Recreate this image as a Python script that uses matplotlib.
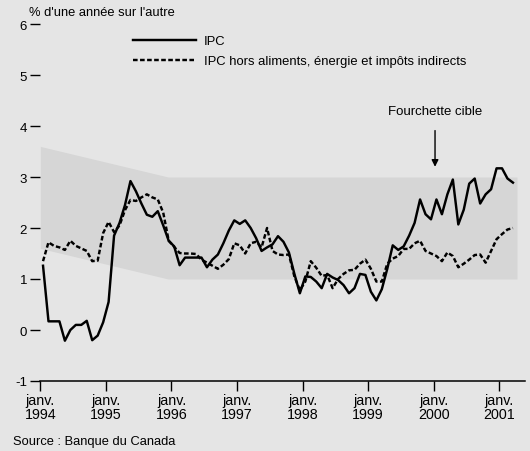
import numpy as np
import matplotlib
matplotlib.use("Agg")
from matplotlib import pyplot as plt

plt.rcParams['font.family'] = ['Liberation Sans', 'DejaVu Sans']
plt.rcParams['axes.unicode_minus'] = False

# monthly data, Jan 1994 - Mar 2001 (year-over-year % change)
ipc = [1.26, 0.17, 0.17, 0.17, -0.21, 0.0, 0.1, 0.1, 0.18, -0.2, -0.11, 0.15,
       0.55, 1.85, 2.1, 2.45, 2.92, 2.72, 2.48, 2.26, 2.22, 2.33, 2.05, 1.75,
       1.64, 1.27, 1.42, 1.42, 1.42, 1.42, 1.23, 1.38, 1.48, 1.7, 1.95, 2.15,
       2.08, 2.15, 2.0, 1.8, 1.55, 1.62, 1.68, 1.84, 1.73, 1.52, 1.1, 0.72,
       1.05, 1.04, 0.95, 0.82, 1.1, 1.03, 0.98, 0.88, 0.72, 0.82, 1.1, 1.08,
       0.75, 0.58, 0.8, 1.2, 1.66, 1.57, 1.64, 1.85, 2.1, 2.56, 2.27, 2.17,
       2.56, 2.27, 2.66, 2.95, 2.07, 2.36, 2.87, 2.97, 2.48, 2.66, 2.76, 3.17,
       3.17, 2.97, 2.89]
ipc_core = [1.35, 1.72, 1.65, 1.62, 1.57, 1.75, 1.65, 1.6, 1.55, 1.35, 1.36, 1.9,
            2.12, 1.92, 2.05, 2.35, 2.55, 2.53, 2.6, 2.66, 2.6, 2.56, 2.3, 1.75,
            1.63, 1.51, 1.5, 1.5, 1.49, 1.38, 1.32, 1.26, 1.2, 1.28, 1.39, 1.7,
            1.66, 1.5, 1.7, 1.73, 1.62, 2.0, 1.55, 1.48, 1.47, 1.48, 1.05, 0.78,
            0.95, 1.35, 1.22, 1.06, 1.08, 0.82, 1.0, 1.1, 1.17, 1.18, 1.3, 1.38,
            1.2, 0.95, 0.95, 1.3, 1.4, 1.45, 1.59, 1.59, 1.7, 1.75, 1.55, 1.5,
            1.45, 1.35, 1.52, 1.45, 1.23, 1.3, 1.38, 1.47, 1.48, 1.32, 1.55, 1.78,
            1.88, 1.97, 2.0]
months = 1994 + (np.arange(len(ipc)) + 0.5) / 12

# target range band
band_x = [1994.0, 1995.95, 2001.27]
band_lo = [1.6, 1.0, 1.0]
band_hi = [3.6, 3.0, 3.0]

years = list(range(1994, 2002))
year_labels = ['janv.\n%d' % y for y in years]

bg = '#e5e5e5'
fig = plt.figure(figsize=(5.3, 4.52), dpi=100, facecolor=bg)
ax = fig.add_axes([40.3 / 530, 70 / 452, (525 - 40.3) / 530, 357 / 452])
ax.set_facecolor(bg)

ax.fill_between(band_x, band_lo, band_hi, color='#d6d6d6', lw=0, zorder=1)
ax.plot(months, ipc, color='black', lw=1.75, label='IPC', zorder=3)
ax.plot(months, ipc_core, color='black', lw=1.75, dashes=(1.9, 1.0),
        label='IPC hors aliments, énergie et impôts indirects', zorder=3)

ax.set_xlim(1994, 1994 + (525 - 40.3) / 65.57)
ax.set_ylim(-1, 6)
ax.set_xticks(years)
ax.set_xticklabels(year_labels, fontsize=10.3, linespacing=0.92)
ax.set_yticks(range(-1, 7))
ax.tick_params(axis='y', length=7.5, width=1, pad=2, labelsize=9.5)
ax.tick_params(axis='x', length=7, width=1, pad=2)
for s in ['top', 'right', 'left']:
    ax.spines[s].set_visible(False)
ax.spines['bottom'].set_linewidth(1.1)

ax.legend(loc='upper left', bbox_to_anchor=(133 / 530, 1 - 36 / 452),
          bbox_transform=fig.transFigure, frameon=False, fontsize=9.4,
          handlelength=4.85, handletextpad=0.55, labelspacing=0.6,
          borderaxespad=0, borderpad=0)

ax.annotate('Fourchette cible', xy=(2000.02, 3.2), xytext=(2000.02, 4.3),
            ha='center', va='center', fontsize=9.5,
            arrowprops=dict(arrowstyle='-|>', color='black', lw=1,
                            mutation_scale=10, shrinkA=8, shrinkB=0))

fig.text(29 / 530, 1 - 13 / 452, "% d'une année sur l'autre", fontsize=9.3,
         va='center', ha='left')
fig.text(13 / 530, 1 - 442 / 452, 'Source : Banque du Canada', fontsize=9.3,
         va='center', ha='left')

plt.savefig('out.png', dpi=100, facecolor=bg)
